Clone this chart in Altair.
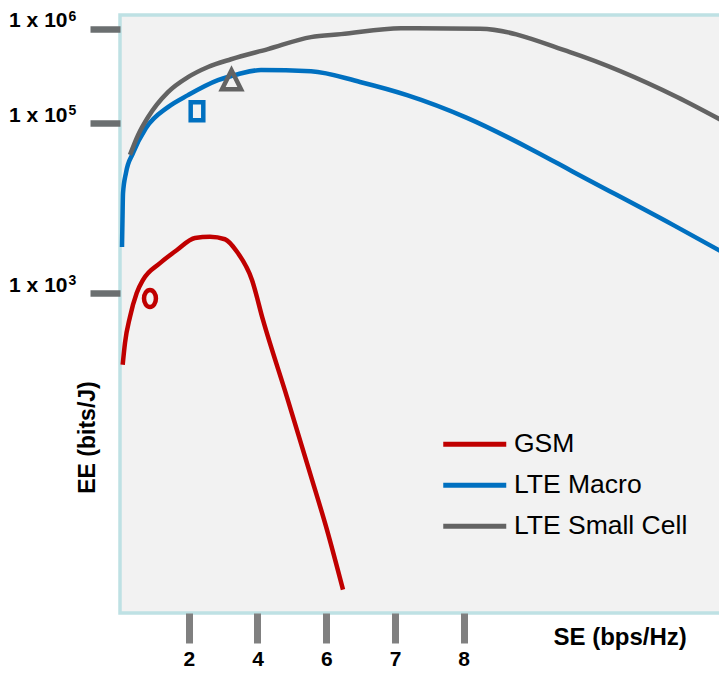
import json
import altair as alt
import pandas as pd

# ---------------- data ----------------
series_names = ["GSM", "LTE Macro", "LTE Small Cell"]
series_colors = ["#c00000", "#0070c0", "#636363"]

# x in "SE axis steps" (tick 1..5 = labels 2,4,6,7,8), y in schematic EE level units
gsm_x = [0.039, 0.073, 0.145, 0.243, 0.335, 0.582, 0.829, 1.091, 1.309, 1.527,
         1.702, 1.920, 2.080, 2.429, 2.764, 3.011, 3.244]
gsm_y = [41.5, 45.2, 49.5, 53.5, 55.7, 58.5, 60.7, 62.7, 62.9, 62.5,
         60.4, 55.7, 49.0, 36.1, 23.4, 13.9, 3.9]

macro_x = [0.029, 0.036, 0.044, 0.087, 0.189, 0.378, 0.698, 0.989, 1.425, 1.716,
           2.051, 2.778, 3.491, 4.175, 5.047, 6.007, 6.589, 8.044, 8.756]
macro_y = [61.2, 65.7, 70.2, 73.6, 76.9, 81.1, 84.6, 86.6, 89.1, 90.1,
           90.8, 90.6, 88.8, 86.6, 82.8, 77.4, 73.8, 64.9, 60.4]

small_x = [0.145, 0.262, 0.407, 0.698, 0.989, 1.280, 1.615, 2.153, 2.778, 3.215,
           4.087, 5.236, 6.545, 8.102, 8.800]
small_y = [76.6, 79.9, 82.9, 87.1, 89.6, 91.3, 92.6, 94.3, 96.3, 96.8,
           97.8, 97.7, 93.8, 86.3, 82.1]

marker_x = [0.436, 1.120, 1.622]
marker_y = [52.6, 83.9, 89.0]

x_tick_pos = [1, 2, 3, 4, 5]
x_tick_labels = ["2", "4", "6", "7", "8"]
y_tick_pos = [97.66, 81.86, 53.43]
y_tick_base = ["1 x 10", "1 x 10", "1 x 10"]
y_tick_exp = ["6", "5", "3"]

x_domain = [0, 8.83]
y_domain = [0, 100]

# ---------------- tables ----------------
rows = []
for name, xs, ys in zip(series_names, [gsm_x, macro_x, small_x], [gsm_y, macro_y, small_y]):
    for i, (a, b) in enumerate(zip(xs, ys)):
        rows.append({"series": name, "se": a, "ee": b, "i": i})
df_lines = pd.DataFrame(rows)
df_marks = pd.DataFrame({"kind": series_names, "se": marker_x, "ee": marker_y})
df_exp = pd.DataFrame({"pos": y_tick_pos, "exp": y_tick_exp})

FONT = "Liberation Sans, Arial, sans-serif"

x_scale = alt.Scale(domain=x_domain, nice=False, zero=False)
y_scale = alt.Scale(domain=y_domain, nice=False, zero=False)
color_scale = alt.Scale(domain=series_names, range=series_colors)

x_axis = alt.Axis(
    values=x_tick_pos,
    labelExpr=json.dumps(x_tick_labels) + "[datum.value - 1]",
    grid=False, domain=False,
    tickSize=30, tickWidth=7, tickColor="#808080",
    labelFont=FONT, labelFontSize=21, labelFontWeight="bold", labelColor="black",
    labelBaseline="alphabetic", labelPadding=22,
    title="SE (bps/Hz)", titleFont=FONT, titleFontSize=24, titleFontWeight="bold",
    titleColor="black", titleX=433, titleY=31, titleAlign="left",
    titleBaseline="alphabetic",
)
y_axis = alt.Axis(
    values=y_tick_pos,
    labelExpr=json.dumps(y_tick_base)
    + "[indexof(" + json.dumps(y_tick_pos) + ", datum.value)]",
    grid=False, domain=False,
    tickSize=30, tickWidth=6.5, tickColor="#6b6f70",
    labelFont=FONT, labelFontSize=21, labelFontWeight="bold", labelColor="black",
    labelPadding=23, labelBaseline="alphabetic", labelOffset=-2,
    title="EE (bits/J)", titleFont=FONT, titleFontSize=23, titleFontWeight="bold",
    titleColor="black", titleX=-33, titleY=422, titleAngle=270,
    titleAlign="center", titleBaseline="middle",
)

lines = alt.Chart(df_lines).mark_line(strokeWidth=4.5, interpolate="monotone").encode(
    x=alt.X("se:Q", scale=x_scale, axis=x_axis),
    y=alt.Y("ee:Q", scale=y_scale, axis=y_axis),
    color=alt.Color(
        "series:N", scale=color_scale, sort=series_names,
        legend=alt.Legend(
            title=None, orient="none", legendX=341.5, legendY=416,
            symbolType="M-3.15,0L3.15,0", symbolSize=400, symbolStrokeWidth=5,
            symbolOpacity=1,
            labelFont=FONT, labelFontSize=26.5, labelColor="black",
            labelOffset=26, rowPadding=14, padding=0, labelLimit=400,
        ),
    ),
    order="i:Q",
)

# outline markers, one small layer per series (constant styles -> no legend merge)
marker_paths = [
    "M0,-1A0.7,1,0,1,1,0,1A0.7,1,0,1,1,0,-1Z",
    "M-0.7,-1L0.7,-1L0.7,1L-0.7,1Z",
    "M0,-1.1L1,0.9L-1,0.9Z",
]
marker_sizes = [289, 324, 361]
marker_layers = []
for name, col, path, sz in zip(series_names, series_colors, marker_paths, marker_sizes):
    marker_layers.append(
        alt.Chart(df_marks[df_marks["kind"] == name])
        .mark_point(filled=False, strokeWidth=4.5, opacity=1, shape=path, size=sz, color=col)
        .encode(x=alt.X("se:Q", scale=x_scale), y=alt.Y("ee:Q", scale=y_scale))
    )

# superscript exponents of the y tick labels
exponents = alt.Chart(df_exp).mark_text(
    font=FONT, fontSize=14, fontWeight="bold", color="black",
    align="left", baseline="alphabetic", dy=-8,
).encode(
    y=alt.Y("pos:Q", scale=y_scale),
    x=alt.value(-51.5),
    text="exp:N",
)

chart = (
    alt.layer(lines, *marker_layers, exponents)
    .properties(
        width=607, height=598,
        autosize=alt.AutoSizeParams(type="none"),
        padding={"left": 112, "top": 7, "right": -8, "bottom": 56},
        background="white",
    )
    .configure_view(stroke="#bee1e4", strokeWidth=3.5, fill="#f2f2f2")
)

chart.save("out.html", embed_options={"renderer": "svg", "actions": False})
